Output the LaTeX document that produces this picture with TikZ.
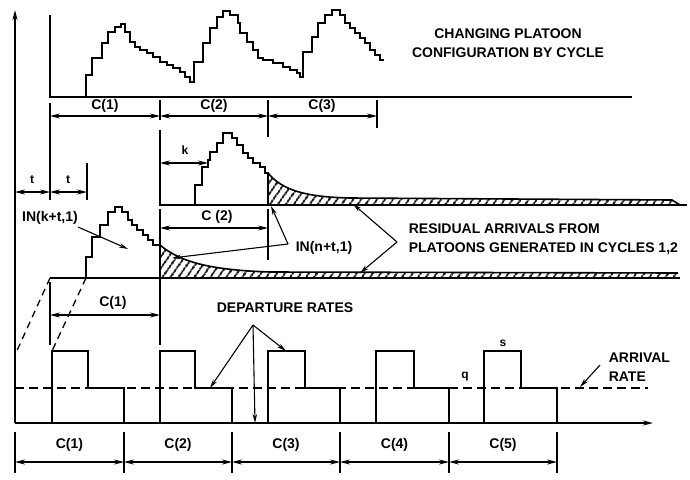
\documentclass[tikz,border=0pt]{standalone}
\usepackage{fontspec}
\setmainfont{Liberation Sans}
\usetikzlibrary{arrows.meta,patterns.meta}
\begin{document}
\begin{tikzpicture}[x=1pt,y=-1pt,
  line width=1.6pt, line join=miter,
  lbl/.style={font=\bfseries\fontsize{14}{19}\selectfont, inner sep=0pt},
  sml/.style={font=\bfseries\fontsize{12}{13}\selectfont, inner sep=0pt},
  dimline/.style={line width=1.1pt, {Stealth[length=10pt,width=5pt]}-{Stealth[length=10pt,width=5pt]}},
  ptr/.style={line width=1.1pt, -{Stealth[length=9pt,width=4.5pt]}},
  tickline/.style={line width=1.1pt},
  hatchfill/.style={pattern={Lines[angle=55,distance=6.5pt,line width=2pt]}},
  ratedash/.style={line width=1.2pt, dash pattern=on 9pt off 5pt},
  guide/.style={line width=1.3pt, dash pattern=on 7pt off 5pt},
  axisarrow/.style={-{Stealth[length=10pt,width=5pt]}},
]
\useasboundingbox (0,0) rectangle (690,479);

% ---------- main axes ----------
\coordinate (O) at (15,423);
\draw[axisarrow] (O) -- (15,10);
\draw[axisarrow] (O) -- (653,423);

% ---------- top panel: changing platoon configuration ----------
\draw (50,15) -- (50,97) -- (632,97);
\draw (86,97) |- (92,75) |- (102,58) |- (108,43) |- (115,32) |- (121,27) |- (125,24)
  |- (130,32) |- (135,42) |- (140,47) |- (147,50) |- (153,53) |- (160,57) |- (167,62)
  |- (173,65) |- (180,68) |- (185,72) |- (190,77) |- (194,82)
  |- (203,62) |- (210,43) |- (217,28) |- (223,17) |- (230,11)
  |- (238,15) |- (240,23) |- (247,33) |- (253,42) |- (258,50) |- (263,58) |- (273,60)
  |- (283,63) |- (290,67) |- (297,70) |- (300,73) |- (303,77)
  |- (312,52) |- (318,37) |- (325,23) |- (332,15) |- (340,10)
  |- (345,15) |- (350,23) |- (355,28) |- (360,33) |- (365,38) |- (370,43) |- (375,50)
  |- (380,55) |- (384,60);
\node[lbl, align=center] (title) at (508,43) {CHANGING PLATOON\\CONFIGURATION BY CYCLE};

% top dimensions
\draw[tickline] (50,103) -- (50,200);
\draw[tickline] (160,100) -- (160,120);
\draw[tickline] (268,100) -- (268,137);
\draw[tickline] (377,100) -- (377,128);
\draw[dimline] (50,116) -- (160,116);
\draw[dimline] (160,116) -- (268,116);
\draw[dimline] (268,116) -- (377,116);
\node[lbl] (tc1) at (105,106) {C(1)};
\node[lbl] (tc2) at (214,106) {C(2)};
\node[lbl] (tc3) at (322,106) {C(3)};

% ---------- middle panel: cycle 2 platoon ----------
\fill[hatchfill] (268,173) .. controls (282,190) and (305,197) .. (350,198) -- (672,200) -- (680,205) -- (268,205) -- cycle;
\draw (268,173) .. controls (282,190) and (305,197) .. (350,198) -- (672,200) -- (680,205);
\draw (160,130) -- (160,205) -- (687,205);
\draw (195,205) |- (202,185) |- (208,167) |- (210,160) |- (217,152) |- (223,143) |- (232,133)
  |- (237,138) |- (243,145) |- (248,153) |- (253,158) |- (260,163) |- (265,167) |- (268,173) -- (268,205);
\draw[dimline] (160,163) -- (208,163);
\node[sml] (klbl) at (185,150) {k};
\draw[tickline] (268,209) -- (268,260);
\draw[tickline] (160,209) -- (160,345);
\draw[dimline] (160,228) -- (268,228);
\node[lbl] (mc2) at (217,217) {C (2)};

% ---------- lower panel: cycle 1 platoon ----------
\fill[hatchfill] (160,245) .. controls (180,262) and (210,270) .. (270,272) -- (678,273) -- (678,278) -- (160,278) -- cycle;
\draw (160,245) .. controls (180,262) and (210,270) .. (270,272) -- (678,273);
\draw (50,278) -- (680,278);
\draw (86,278) |- (92,257) |- (100,237) |- (108,225) |- (115,212) |- (122,207) |- (128,212)
  |- (132,220) |- (137,225) |- (143,230) |- (148,235) |- (153,240) |- (160,245) -- (160,278);
\draw[guide] (50,278) -- (15,355);
\draw[guide] (86,278) -- (52,351);

% t dimensions
\draw[tickline] (87,163) -- (87,200);
\draw[dimline] (15,192) -- (50,192);
\draw[dimline] (50,192) -- (87,192);
\node[sml] (t1) at (32,180) {t};
\node[sml] (t2) at (68,180) {t};

% C(1) dimension of lower panel
\draw[tickline] (50,282) -- (50,345);
\draw[dimline] (50,315) -- (160,315);
\node[lbl] (lc1) at (113,303) {C(1)};

% IN(k+t,1)
\node[lbl] (ink) at (50,218) {IN(k+t,1)};
\coordinate (inkTip) at (128,249);
\draw[ptr] (78,227) -- (inkTip);

% IN(n+t,1)
\node[lbl, anchor=west] (inn) at (295,248) {IN(n+t,1)};
\coordinate (innV) at (288,244);
\coordinate (innA) at (271,206);
\coordinate (innB) at (172,258);
\draw[ptr] (innV) -- (innA);
\draw[ptr] (innV) -- (innB);

% residual arrivals
\node[lbl, align=left, anchor=west] (resid) at (408,239) {RESIDUAL ARRIVALS FROM\\PLATOONS GENERATED IN CYCLES 1,2};
\coordinate (resV) at (397,242);
\coordinate (resA) at (353,204);
\coordinate (resB) at (360,273);
\draw[ptr] (resV) -- (resA);
\draw[ptr] (resV) -- (resB);

% ---------- bottom: departure / arrival rates ----------
\draw[ratedash] (15,388) -- (648,388);
\foreach \b/\h/\e/\n in {15/52/88/124, 124/160/195/232, 232/268/305/340, 340/376/414/449, 449/484/521/557}{
  \draw (\h,423) -- (\h,351) -- (\e,351) -- (\e,388) -- (\n,388) -- (\n,423);
}
\node[sml] (qlbl) at (465,377) {q};
\node[sml] (slbl) at (503,343) {s};
\node[lbl, align=left, anchor=west] (arr) at (608,367) {ARRIVAL\\RATE};
\coordinate (arrTip) at (580,387);
\draw[ptr] (600,365) -- (arrTip);

\node[lbl] (dep) at (285,308) {DEPARTURE RATES};
\coordinate (depV) at (253,325);
\coordinate (depA) at (210,388);
\coordinate (depB) at (286,351);
\coordinate (depC) at (255,423);
\draw[ptr] (depV) -- (depA);
\draw[ptr] (depV) -- (depB);
\draw[ptr] (depV) -- (depC);

% bottom dimensions
\foreach \x in {15,124,232,340,449,557}{ \draw[tickline] (\x,432) -- (\x,473); }
\foreach \a/\b/\i in {15/124/1, 124/232/2, 232/340/3, 340/449/4, 449/557/5}{
  \draw[dimline] (\a,462) -- (\b,462);
  \node[lbl] (bc\i) at ({(\a+\b)/2},445) {C(\i)};
}
\end{tikzpicture}
\end{document}
